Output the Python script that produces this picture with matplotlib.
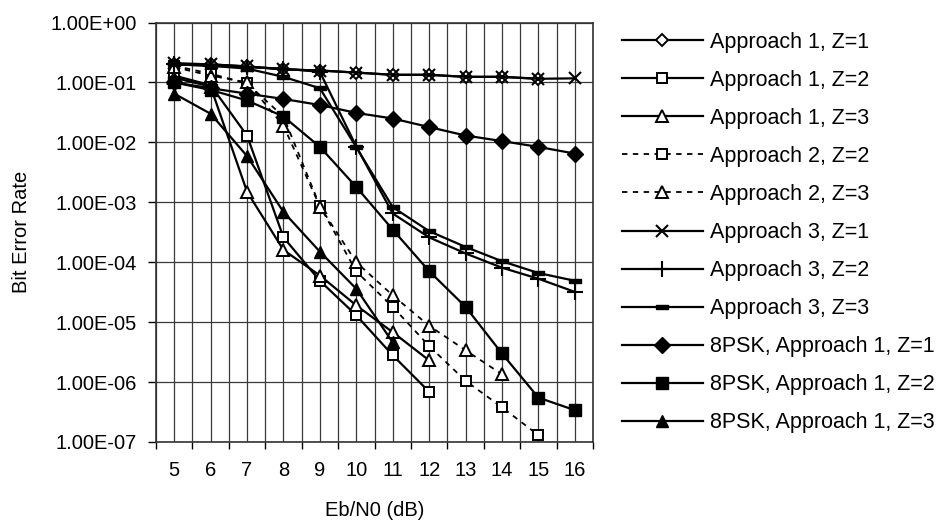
import numpy as np
import matplotlib
matplotlib.use("Agg")
import matplotlib.pyplot as plt
from matplotlib.ticker import FixedLocator, FuncFormatter

plt.rcParams['font.family'] = ['Liberation Sans', 'DejaVu Sans']

nan = np.nan
ebn0 = [5, 6, 7, 8, 9, 10, 11, 12, 13, 14, 15, 16]

a1_z1 = [0.20, 0.20, 0.185, 0.165, 0.158, 0.146, 0.134, 0.134, 0.124, 0.124, 0.115, nan]
a1_z2 = [0.13, 0.09, 0.013, 2.6e-4, 4.9e-5, 1.3e-5, 2.8e-6, 6.9e-7, nan, nan, nan, nan]
a1_z3 = [0.12, 0.085, 1.5e-3, 1.6e-4, 6.0e-5, 1.9e-5, 6.8e-6, 2.3e-6, nan, nan, nan, nan]
a2_z2 = [0.19, 0.14, 0.096, 0.027, 8.7e-4, 7.0e-5, 1.8e-5, 4.0e-6, 1.05e-6, 3.8e-7, 1.3e-7, nan]
a2_z3 = [0.18, 0.13, 0.10, 0.019, 8.5e-4, 1.0e-4, 2.8e-5, 8.7e-6, 3.4e-6, 1.35e-6, nan, nan]
a3_z1 = [0.21, 0.20, 0.185, 0.165, 0.158, 0.146, 0.134, 0.134, 0.124, 0.124, 0.115, 0.117]
a3_z2 = [0.20, 0.19, 0.18, 0.17, 0.15, 0.0085, 6.5e-4, 2.6e-4, 1.4e-4, 8.1e-5, 5.3e-5, 3.2e-5]
a3_z3 = [0.20, 0.19, 0.17, 0.124, 0.08, 0.0083, 8.3e-4, 3.3e-4, 1.8e-4, 1.04e-4, 6.6e-5, 4.9e-5]
psk_z1 = [0.10, 0.08, 0.065, 0.053, 0.042, 0.031, 0.025, 0.018, 0.013, 0.0105, 0.0084, 0.0065]
psk_z2 = [0.10, 0.075, 0.05, 0.027, 0.0084, 0.0018, 3.5e-4, 7.1e-5, 1.8e-5, 3.0e-6, 5.5e-7, 3.4e-7]
psk_z3 = [0.065, 0.030, 0.0059, 6.9e-4, 1.5e-4, 3.6e-5, 4.6e-6, nan, nan, nan, nan, nan]

y_ticks = [1e0, 1e-1, 1e-2, 1e-3, 1e-4, 1e-5, 1e-6, 1e-7]

# short horizontal bar used as the "dash" marker
dash_marker = [(-1, -0.32), (1, -0.32), (1, 0.32), (-1, 0.32), (-1, -0.32)]

W, H = 942, 529
fig = plt.figure(figsize=(W / 100, H / 100), dpi=100)
ax = fig.add_axes([156 / W, (H - 442) / H, (593 - 156) / W, (442 - 22.5) / H])

solid = dict(color='black', lw=1.6, linestyle='-')
dashed = dict(color='black', lw=1.3, linestyle=(0, (3, 3)))
hollow = dict(markerfacecolor='white', markeredgecolor='black', markeredgewidth=1.4)
filled = dict(markerfacecolor='black', markeredgecolor='black', markeredgewidth=1.0)

series = [
    (a1_z1, 'Approach 1, Z=1', solid, dict(marker='D', markersize=6.5, **hollow)),
    (a1_z2, 'Approach 1, Z=2', solid, dict(marker='s', markersize=7.5, **hollow)),
    (a1_z3, 'Approach 1, Z=3', solid, dict(marker='^', markersize=8, **hollow)),
    (a2_z2, 'Approach 2, Z=2', dashed, dict(marker='s', markersize=7.5, **hollow)),
    (a2_z3, 'Approach 2, Z=3', dashed, dict(marker='^', markersize=8, **hollow)),
    (a3_z1, 'Approach 3, Z=1', solid, dict(marker='x', markersize=9, markeredgewidth=1.5,
                                           markeredgecolor='black')),
    (a3_z2, 'Approach 3, Z=2', solid, dict(marker='+', markersize=12, markeredgewidth=1.5,
                                           markeredgecolor='black')),
    (a3_z3, 'Approach 3, Z=3', solid, dict(marker=dash_marker, markersize=9, **filled)),
    (psk_z1, '8PSK, Approach 1, Z=1', solid, dict(marker='D', markersize=8, **filled)),
    (psk_z2, '8PSK, Approach 1, Z=2', solid, dict(marker='s', markersize=8.5, **filled)),
    (psk_z3, '8PSK, Approach 1, Z=3', solid, dict(marker='^', markersize=9, **filled)),
]

x = np.array(ebn0, dtype=float)
for vals, label, ls, mk in series:
    y = np.array(vals, dtype=float)
    ok = ~np.isnan(y)
    ax.plot(x[ok], y[ok], label=label, **ls, **mk)

ax.set_yscale('log')
ax.set_ylim(1e-7, 1e0)
ax.set_xlim(4.5, 16.5)

ax.yaxis.set_major_locator(FixedLocator(y_ticks))
ax.yaxis.set_minor_locator(FixedLocator([]))
ax.yaxis.set_major_formatter(FuncFormatter(lambda v, p: f"{v:.2E}"))
ax.set_xticks(ebn0)
ax.set_xticks(np.arange(4.5, 16.6, 1.0), minor=True)

ax.grid(True, which='major', axis='both', color='#3a3a3a', lw=0.9)
ax.grid(True, which='minor', axis='x', color='#3a3a3a', lw=0.9)
ax.set_axisbelow(True)

ax.tick_params(axis='y', which='major', direction='out', length=6, width=1,
               labelsize=14.5, pad=8)
ax.tick_params(axis='x', which='major', direction='out', length=0, labelsize=14.5, pad=14)
ax.tick_params(axis='x', which='minor', direction='out', length=5, width=1)
for s in ax.spines.values():
    s.set_color('#333333')
    s.set_linewidth(1.2)

ax.set_xlabel('Eb/N0 (dB)', fontsize=14.5, labelpad=15)
ax.set_ylabel('Bit Error Rate', fontsize=14.5, labelpad=14)

leg = fig.legend(loc='upper left', bbox_to_anchor=(622 / W, 1 - 32 / H),
                 frameon=False, fontsize=15.5, numpoints=1,
                 handlelength=3.75, handletextpad=0.33, labelspacing=0.79,
                 borderpad=0, borderaxespad=0)

fig.savefig('out.png', dpi=100, facecolor='white')
